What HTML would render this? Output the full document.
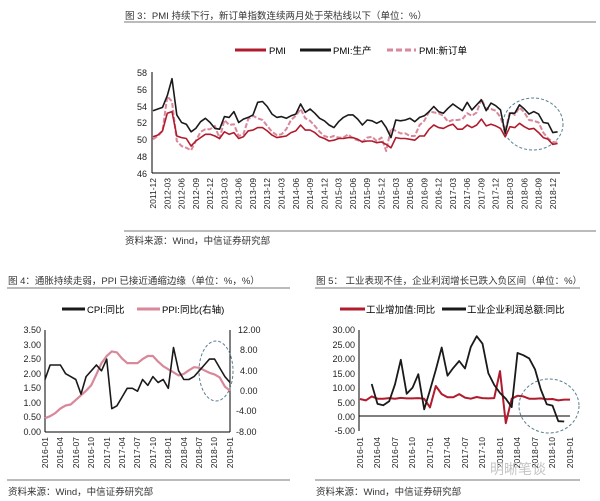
<!DOCTYPE html>
<html><head><meta charset="utf-8">
<style>
body{margin:0;background:#fff;}
svg{display:block;font-family:"Liberation Sans","Noto Sans CJK SC",sans-serif;}
</style></head><body>
<svg id="s" width="600" height="501" viewBox="0 0 600 501" xmlns="http://www.w3.org/2000/svg">
<rect width="600" height="501" fill="#fff"/>
<text x="125" y="19" font-size="9.5" fill="#333">图 3：PMI 持续下行，新订单指数连续两月处于荣枯线以下（单位：%）</text>
<line x1="124" y1="22" x2="596" y2="22" stroke="#777" stroke-width="1"/>
<line x1="235" y1="50" x2="266" y2="50" stroke="#b01c2e" stroke-width="3"/>
<text x="269" y="54" font-size="9.5">PMI</text>
<line x1="300" y1="50" x2="331" y2="50" stroke="#1a1a1a" stroke-width="3"/>
<text x="333" y="54" font-size="9.5">PMI:生产</text>
<line x1="387" y1="50" x2="416" y2="50" stroke="#d9879a" stroke-width="3" stroke-dasharray="6,3"/>
<text x="419" y="54" font-size="9.5">PMI:新订单</text>
<g font-size="9" text-anchor="end" fill="#222">
<text x="147" y="76">58</text><text x="147" y="93">56</text><text x="147" y="110">54</text><text x="147" y="126">52</text><text x="147" y="143">50</text><text x="147" y="160">48</text><text x="147" y="177">46</text>
</g>
<line x1="152" y1="72" x2="152" y2="173" stroke="#000"/>
<line x1="152" y1="173" x2="560" y2="173" stroke="#000"/>
<g id="topticks" font-size="8.5" text-anchor="end" fill="#222"></g>
<line x1="124" y1="231" x2="596" y2="231" stroke="#777"/>
<text x="125" y="244" font-size="9.5" fill="#333">资料来源：Wind，中信证券研究部</text>
<ellipse cx="533" cy="124" rx="30" ry="26" fill="none" stroke="#5a7f8f" stroke-dasharray="3,2" stroke-width="1"/>

<text x="8" y="284" font-size="9.5" fill="#333">图 4：通胀持续走弱，PPI 已接近通缩边缘（单位：%，%）</text>
<line x1="7" y1="288" x2="290" y2="288" stroke="#777"/>
<line x1="62" y1="309" x2="85" y2="309" stroke="#1a1a1a" stroke-width="3"/>
<text x="87" y="313" font-size="9.5">CPI:同比</text>
<line x1="137" y1="309" x2="160" y2="309" stroke="#d9879a" stroke-width="3"/>
<text x="162" y="313" font-size="9.5">PPI:同比(右轴)</text>
<g font-size="9" text-anchor="end" fill="#222">
<text x="41" y="333">3.50</text><text x="41" y="348">3.00</text><text x="41" y="362">2.50</text><text x="41" y="377">2.00</text><text x="41" y="391">1.50</text><text x="41" y="406">1.00</text><text x="41" y="420">0.50</text><text x="41" y="435">0.00</text>
</g>
<g font-size="9" fill="#222">
<text x="238" y="333">12.00</text><text x="240" y="353">8.00</text><text x="240" y="374">4.00</text><text x="240" y="394">0.00</text><text x="236" y="414">-4.00</text><text x="236" y="435">-8.00</text>
</g>
<line x1="45" y1="330" x2="45" y2="432" stroke="#000"/>
<line x1="230" y1="330" x2="230" y2="432" stroke="#000"/>
<line x1="45" y1="432" x2="230" y2="432" stroke="#000"/>
<g font-size="8.5" text-anchor="end" fill="#222">
<text transform="translate(48,437) rotate(-90)">2016-01</text>
<text transform="translate(63,437) rotate(-90)">2016-04</text>
<text transform="translate(79,437) rotate(-90)">2016-07</text>
<text transform="translate(94,437) rotate(-90)">2016-10</text>
<text transform="translate(110,437) rotate(-90)">2017-01</text>
<text transform="translate(125,437) rotate(-90)">2017-04</text>
<text transform="translate(140,437) rotate(-90)">2017-07</text>
<text transform="translate(156,437) rotate(-90)">2017-10</text>
<text transform="translate(171,437) rotate(-90)">2018-01</text>
<text transform="translate(187,437) rotate(-90)">2018-04</text>
<text transform="translate(202,437) rotate(-90)">2018-07</text>
<text transform="translate(217,437) rotate(-90)">2018-10</text>
<text transform="translate(233,437) rotate(-90)">2019-01</text>
</g>
<ellipse cx="216" cy="371" rx="17" ry="30" fill="none" stroke="#5a7f8f" stroke-dasharray="3,2"/>
<line x1="7" y1="480" x2="290" y2="480" stroke="#777"/>
<text x="8" y="495" font-size="9.5" fill="#333">资料来源：Wind，中信证券研究部</text>

<text x="316" y="284" font-size="9.5" fill="#333">图 5：  工业表现不佳，企业利润增长已跌入负区间（单位：%）</text>
<line x1="315" y1="288" x2="580" y2="288" stroke="#777"/>
<line x1="340" y1="309" x2="365" y2="309" stroke="#b01c2e" stroke-width="3"/>
<text x="366" y="313" font-size="9.5">工业增加值:同比</text>
<line x1="442" y1="309" x2="466" y2="309" stroke="#1a1a1a" stroke-width="3"/>
<text x="467" y="313" font-size="9.5">工业企业利润总额:同比</text>
<g font-size="9" text-anchor="end" fill="#222">
<text x="355" y="333">30.00</text><text x="355" y="348">25.00</text><text x="355" y="362">20.00</text><text x="355" y="377">15.00</text><text x="355" y="391">10.00</text><text x="355" y="406">5.00</text><text x="355" y="420">0.00</text><text x="355" y="434">-5.00</text>
</g>
<line x1="359" y1="330" x2="359" y2="431" stroke="#000"/>
<line x1="359" y1="416" x2="570" y2="416" stroke="#000"/>
<g font-size="8.5" text-anchor="end" fill="#222">
<text transform="translate(363,437) rotate(-90)">2016-01</text>
<text transform="translate(380,437) rotate(-90)">2016-04</text>
<text transform="translate(398,437) rotate(-90)">2016-07</text>
<text transform="translate(415,437) rotate(-90)">2016-10</text>
<text transform="translate(433,437) rotate(-90)">2017-01</text>
<text transform="translate(450,437) rotate(-90)">2017-04</text>
<text transform="translate(468,437) rotate(-90)">2017-07</text>
<text transform="translate(485,437) rotate(-90)">2017-10</text>
<text transform="translate(503,437) rotate(-90)">2018-01</text>
<text transform="translate(520,437) rotate(-90)">2018-04</text>
<text transform="translate(538,437) rotate(-90)">2018-07</text>
<text transform="translate(555,437) rotate(-90)">2018-10</text>
<text transform="translate(573,437) rotate(-90)">2019-01</text>
</g>
<ellipse cx="549" cy="406" rx="30" ry="27" fill="none" stroke="#5a7f8f" stroke-dasharray="3,2"/>
<text x="490" y="474" font-size="14" fill="#c4c4c4">明晰笔谈</text>
<line x1="315" y1="480" x2="580" y2="480" stroke="#777"/>
<text x="316" y="495" font-size="9.5" fill="#333">资料来源：Wind，中信证券研究部</text>
<g id="series"></g>
</svg>
<script>
var NS="http://www.w3.org/2000/svg";
var tt=document.getElementById('topticks');
var lab=[];for(var y=2011;y<=2018;y++){[3,6,9,12].forEach(function(m){if(y==2011&&m<12)return;lab.push(y+'-'+(m<10?'0'+m:m));});}
lab.forEach(function(l,i){var t=document.createElementNS(NS,'text');var x=153+4.76*3*i+3;t.setAttribute('transform','translate('+x+',178) rotate(-90)');t.textContent=l;tt.appendChild(t);});
var g=document.getElementById('series');
function pl(data,fx,fy,col,w,dash){var p=[];data.forEach(function(v,i){if(v===null)return;p.push(fx(i).toFixed(1)+','+fy(v).toFixed(1));});var e=document.createElementNS(NS,'polyline');e.setAttribute('points',p.join(' '));e.setAttribute('fill','none');e.setAttribute('stroke',col);e.setAttribute('stroke-width',w);e.setAttribute('stroke-linejoin','round');if(dash)e.setAttribute('stroke-dasharray',dash);g.appendChild(e);}
var pmi=[50.3,50.5,51.0,53.1,53.3,50.4,50.2,50.1,49.2,49.8,50.2,50.6,50.6,50.4,50.1,50.9,50.6,50.8,50.1,50.3,51.0,51.1,51.4,51.4,51.0,50.5,50.2,50.3,50.4,50.8,51.0,51.7,51.1,51.1,50.8,50.3,50.1,49.8,49.9,50.1,50.1,50.2,50.2,50.0,49.7,49.8,49.8,49.6,49.7,49.4,49.0,50.2,50.1,50.1,50.0,49.9,50.4,50.4,51.2,51.7,51.4,51.3,51.6,51.8,51.2,51.2,51.7,51.4,51.7,52.4,51.6,51.8,51.6,51.3,50.3,51.5,51.4,51.9,51.5,51.2,51.3,50.8,50.2,50.0,49.4,49.5];
var prod=[53.4,53.6,53.8,55.2,57.2,52.9,52.0,51.8,50.9,51.3,52.1,52.5,52.0,51.3,51.2,52.7,52.6,53.3,52.0,52.4,52.6,52.9,54.4,54.5,53.9,53.0,52.6,52.7,52.5,52.8,53.0,54.2,53.2,53.6,53.1,52.5,52.2,51.7,51.4,52.1,52.6,52.9,52.9,52.4,51.7,52.3,52.2,51.9,52.2,51.4,50.2,52.3,52.2,52.3,52.5,52.1,52.6,52.8,53.3,53.9,53.3,53.1,53.7,54.2,53.8,53.4,54.4,53.5,54.1,54.7,53.4,54.3,54.0,53.5,50.7,53.1,53.1,54.1,53.6,53.0,53.3,53.0,52.0,51.9,50.8,50.9];
var no=[50.0,50.4,51.0,55.1,54.5,49.8,49.2,49.0,48.7,49.8,50.9,51.2,51.2,51.6,50.1,52.3,51.7,51.8,50.4,50.6,52.4,52.8,52.5,52.3,51.6,50.9,50.5,50.6,51.2,52.3,52.8,53.6,52.5,52.2,51.6,50.9,50.4,50.2,50.4,50.2,50.2,50.6,50.1,49.9,49.7,50.2,50.3,49.8,50.2,48.6,51.3,51.0,50.7,50.7,50.4,50.4,51.7,52.2,53.3,53.2,53.1,52.8,52.1,52.3,52.3,52.4,53.1,52.8,53.2,54.8,53.6,53.6,53.4,52.6,51.0,53.3,52.9,53.8,53.2,52.3,52.2,52.0,50.8,50.1,49.7,49.6];
var fxT=function(i){return 153+4.76*i;},fyT=function(v){return 173-(v-46)*101/12;};
pl(no,fxT,fyT,'#d9879a',2,'5,2');
pl(prod,fxT,fyT,'#1a1a1a',1.6);
pl(pmi,fxT,fyT,'#b01c2e',1.6);
var cpi=[1.8,2.3,2.3,2.3,2.0,1.9,1.8,1.3,1.9,2.1,2.3,2.1,2.5,0.8,0.9,1.2,1.5,1.5,1.4,1.8,1.6,1.9,1.7,1.8,1.5,2.9,2.1,1.8,1.8,1.9,2.1,2.3,2.5,2.5,2.2,1.9,1.7];
var ppi=[-5.3,-4.9,-4.3,-3.4,-2.8,-2.6,-1.7,-0.8,0.1,1.2,3.3,5.5,6.9,7.8,7.6,6.4,5.5,5.5,5.5,6.3,6.9,6.9,5.8,4.9,4.3,3.7,3.1,3.4,4.1,4.7,4.6,4.1,3.6,3.3,2.7,0.9,0.1];
var fxL=function(i){return 45+185/36*i;};
pl(ppi,fxL,function(v){return 432-(v+8)*102/20;},'#d9879a',2.2);
pl(cpi,fxL,function(v){return 432-v*102/3.5;},'#1a1a1a',1.6);
var iva=[5.9,5.4,6.8,6.0,6.0,6.2,6.0,6.3,6.1,6.1,6.2,6.0,3.0,10.4,7.6,6.5,6.5,7.6,6.4,6.0,6.6,6.2,6.1,6.2,15.6,-2.5,6.0,7.0,6.8,6.0,6.0,6.1,5.8,5.9,5.4,5.7,5.7];
var prof=[null,null,11.1,4.2,3.7,5.1,11.0,19.5,7.7,9.8,14.5,2.3,9.0,16.0,23.8,14.0,16.7,19.1,16.5,24.0,27.7,25.1,14.9,10.8,8.0,6.0,3.1,21.9,21.1,20.0,16.2,9.2,4.1,3.6,-1.8,-1.9];
var fxR=function(i){return 360+210/36*i;},fyR=function(v){return 416-v*14.4/5;};
pl(iva,fxR,fyR,'#b01c2e',2);
pl(prof,fxR,fyR,'#1a1a1a',1.8);
</script>
</body></html>
